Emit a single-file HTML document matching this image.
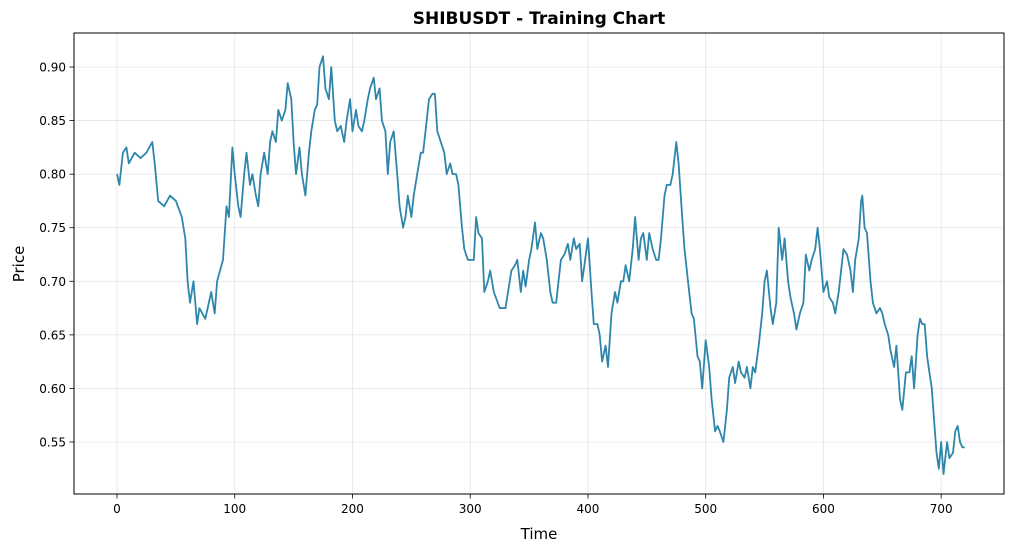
<!DOCTYPE html>
<html><head><meta charset="utf-8"><style>
body{margin:0;background:#fff;font-family:"Liberation Sans","DejaVu Sans",sans-serif}
svg text{font-family:"DejaVu Sans","Liberation Sans",sans-serif}
</style></head><body>
<svg id="chart" width="1014" height="552">
<rect x="0" y="0" width="1014" height="552" fill="#fff"/>
<g id="grid"></g>
<g id="series"></g>
<rect x="74" y="33" width="930" height="461" fill="none" stroke="#000" stroke-width="1"/>
<g id="axes"></g>
<text x="539" y="24" text-anchor="middle" font-size="17" font-weight="bold">SHIBUSDT - Training Chart</text>
<text x="539" y="539" text-anchor="middle" font-size="15">Time</text>
<text x="24" y="264" text-anchor="middle" font-size="15" transform="rotate(-90 24 264)">Price</text>
</svg>
<script>
const times=[0,2,5,8,10,15,20,25,30,32,35,40,45,50,55,58,60,62,65,68,70,75,80,83,85,90,93,95,98,100,103,105,108,110,113,115,118,120,122,125,128,130,132,135,137,140,143,145,148,150,152,155,157,160,163,165,168,170,172,175,177,180,182,185,187,190,193,195,198,200,203,205,208,210,213,215,218,220,223,225,228,230,232,235,238,240,243,245,247,250,252,255,258,260,263,265,268,270,272,275,278,280,283,285,288,290,293,295,298,300,303,305,307,310,312,315,317,320,325,330,335,338,340,343,345,347,350,352,355,357,360,362,365,368,370,373,375,377,380,383,385,388,390,393,395,397,400,403,405,408,410,412,415,417,420,423,425,428,430,432,435,438,440,443,445,447,450,452,455,458,460,462,465,467,470,472,475,477,480,482,485,488,490,493,495,497,500,503,505,508,510,512,515,518,520,523,525,528,530,533,535,538,540,542,545,548,550,552,555,557,560,562,565,567,570,572,575,577,580,583,585,588,590,593,595,597,600,603,605,608,610,613,615,617,620,623,625,627,630,632,633,635,637,640,642,645,648,650,652,655,657,660,662,665,667,670,673,675,677,680,682,684,686,688,690,692,694,696,698,700,702,705,707,710,712,714,716,718,720];
const prices=[0.80,0.79,0.82,0.825,0.81,0.82,0.815,0.82,0.83,0.81,0.775,0.77,0.78,0.775,0.76,0.74,0.70,0.68,0.70,0.66,0.675,0.665,0.69,0.67,0.70,0.72,0.77,0.76,0.825,0.80,0.77,0.76,0.80,0.82,0.79,0.80,0.78,0.77,0.80,0.82,0.80,0.83,0.84,0.83,0.86,0.85,0.86,0.885,0.87,0.83,0.80,0.825,0.80,0.78,0.82,0.84,0.86,0.865,0.90,0.91,0.88,0.87,0.90,0.85,0.84,0.845,0.83,0.85,0.87,0.84,0.86,0.845,0.84,0.85,0.87,0.88,0.89,0.87,0.88,0.85,0.84,0.80,0.83,0.84,0.80,0.77,0.75,0.76,0.78,0.76,0.78,0.80,0.82,0.82,0.85,0.87,0.875,0.875,0.84,0.83,0.82,0.80,0.81,0.80,0.80,0.79,0.75,0.73,0.72,0.72,0.72,0.76,0.745,0.74,0.69,0.70,0.71,0.69,0.675,0.675,0.71,0.715,0.72,0.69,0.71,0.695,0.72,0.73,0.755,0.73,0.745,0.74,0.72,0.69,0.68,0.68,0.70,0.72,0.725,0.735,0.72,0.74,0.73,0.735,0.70,0.715,0.74,0.69,0.66,0.66,0.65,0.625,0.64,0.62,0.67,0.69,0.68,0.70,0.70,0.715,0.70,0.73,0.76,0.72,0.74,0.745,0.72,0.745,0.73,0.72,0.72,0.74,0.78,0.79,0.79,0.80,0.83,0.81,0.76,0.73,0.70,0.67,0.665,0.63,0.625,0.60,0.645,0.62,0.59,0.56,0.565,0.56,0.55,0.58,0.61,0.62,0.605,0.625,0.615,0.61,0.62,0.60,0.62,0.615,0.64,0.67,0.70,0.71,0.675,0.66,0.68,0.75,0.72,0.74,0.70,0.685,0.67,0.655,0.67,0.68,0.725,0.71,0.72,0.73,0.75,0.73,0.69,0.70,0.685,0.68,0.67,0.69,0.71,0.73,0.725,0.71,0.69,0.72,0.74,0.775,0.78,0.75,0.745,0.70,0.68,0.67,0.675,0.67,0.66,0.65,0.635,0.62,0.64,0.59,0.58,0.615,0.615,0.63,0.60,0.65,0.665,0.66,0.66,0.63,0.615,0.60,0.57,0.54,0.525,0.55,0.52,0.55,0.535,0.54,0.56,0.565,0.55,0.545,0.545];
const xTicks=[0,100,200,300,400,500,600,700];
const yTicks=[0.55,0.60,0.65,0.70,0.75,0.80,0.85,0.90];
const xs=t=>117+t*1.1774;
const ys=p=>442-(p-0.55)*1071.4;
const NS='http://www.w3.org/2000/svg';
const grid=document.getElementById('grid'),axes=document.getElementById('axes'),series=document.getElementById('series');
function mk(tag,attrs,parent){const e=document.createElementNS(NS,tag);for(const k in attrs)e.setAttribute(k,attrs[k]);parent.appendChild(e);return e;}
xTicks.forEach(t=>{const x=xs(t);
 const g=mk('line',{x1:x,x2:x,y1:33,y2:494,stroke:'#000','stroke-opacity':0.1,'stroke-width':0.8},grid);
 
 
 mk('line',{x1:x,x2:x,y1:494,y2:498.5,stroke:'#000','stroke-width':0.8},axes);
 const l=mk('text',{x:x,y:513,'text-anchor':'middle','font-size':12},axes);l.textContent=t;
 
 });
yTicks.forEach(p=>{const y=ys(p);
 const g=mk('line',{x1:74,x2:1004,y1:y,y2:y,stroke:'#000','stroke-opacity':0.1,'stroke-width':0.8},grid);
 
 
 mk('line',{x1:69.5,x2:74,y1:y,y2:y,stroke:'#000','stroke-width':0.8},axes);
 const l=mk('text',{x:66,y:y+4.5,'text-anchor':'end','font-size':12},axes);l.textContent=p.toFixed(2);
 
 });
const pts=times.map((t,i)=>xs(t).toFixed(1)+','+ys(prices[i]).toFixed(1)).join(' ');
const line=mk('polyline',{points:pts,fill:'none',stroke:'#2e86ab','stroke-width':1.8,'stroke-linejoin':'round'},series);


</script>
</body></html>
